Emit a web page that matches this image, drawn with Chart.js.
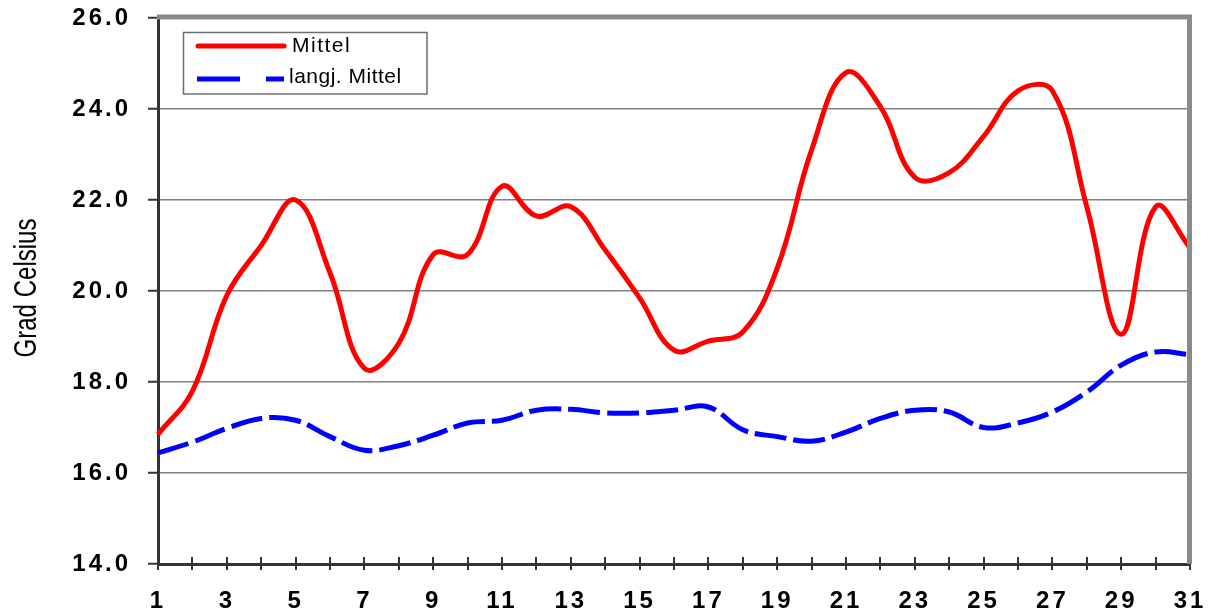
<!DOCTYPE html>
<html>
<head>
<meta charset="utf-8">
<script src="https://cdn.jsdelivr.net/npm/chart.js@4.4.0/dist/chart.umd.min.js"></script>
<style>
  html, body { margin: 0; padding: 0; background: #fff; }
  #wrap { width: 1211px; height: 614px; }
</style>
</head>
<body>
<div id="wrap"><canvas id="grafico"></canvas></div>
<script>
// Tage des Monats
const tage = ["1","2","3","4","5","6","7","8","9","10","11","12","13","14","15","16",
  "17","18","19","20","21","22","23","24","25","26","27","28","29","30","31"];

// Tagesmittel (Grad Celsius)
const mittel = [16.85, 17.8, 19.9, 21.0, 22.0, 20.4, 18.3, 18.85, 20.8, 20.8,
  22.3, 21.65, 21.85, 20.9, 19.85, 18.7, 18.9, 19.1, 20.5, 23.1,
  24.8, 24.05, 22.5, 22.6, 23.4, 24.4, 24.4, 21.85, 19.05, 21.85, 20.95];

// langjähriges Mittel
const langjMittel = [16.44, 16.68, 16.98, 17.2, 17.16, 16.8, 16.5, 16.6, 16.83, 17.1,
  17.16, 17.38, 17.4, 17.32, 17.32, 17.38, 17.45, 16.95, 16.8, 16.7,
  16.9, 17.2, 17.38, 17.34, 17.0, 17.1, 17.34, 17.78, 18.37, 18.66, 18.6];

const yMin = 14, yMax = 26, yStep = 2;
const yTitel = "Grad Celsius";

// Abstand zwischen Buchstaben wie im Original
const abstandPlugin = {
  id: "abstand",
  beforeDraw(chart) {
    chart.ctx.letterSpacing = "3px";
  }
};

// Rahmen, Achsenstriche, Titel und Legende
const extrasPlugin = {
  id: "extras",
  afterDraw(chart) {
    const ctx = chart.ctx;
    const area = chart.chartArea;
    const xs = chart.scales.x;
    ctx.save();
    ctx.letterSpacing = "0px";

    // Striche an der x-Achse (kreuzend)
    ctx.strokeStyle = "#333";
    ctx.lineWidth = 2;
    for (let i = 0; i < tage.length; i++) {
      const x = Math.round(xs.getPixelForValue(i));
      ctx.beginPath();
      ctx.moveTo(x, area.bottom - 7);
      ctx.lineTo(x, area.bottom + 6);
      ctx.stroke();
    }

    // grauer Rahmen oben und rechts
    ctx.strokeStyle = "#8a8a8a";
    ctx.lineWidth = 5;
    ctx.lineCap = "butt";
    ctx.beginPath();
    ctx.moveTo(area.left - 1, 17);
    ctx.lineTo(area.right - 0.5, 17);
    ctx.lineTo(area.right - 0.5, area.bottom);
    ctx.stroke();

    // y-Achsentitel (schmal gestaucht)
    ctx.fillStyle = "#000";
    ctx.font = '31px "Liberation Sans", Arial, sans-serif';
    ctx.textAlign = "center";
    ctx.textBaseline = "middle";
    const breite = ctx.measureText(yTitel).width;
    ctx.translate(27, 288);
    ctx.rotate(-Math.PI / 2);
    ctx.scale(139 / breite, 1);
    ctx.fillText(yTitel, 0, 0);
    ctx.setTransform(1, 0, 0, 1, 0, 0);

    // Legende
    ctx.fillStyle = "#fff";
    ctx.fillRect(183, 32, 244, 62);
    ctx.strokeStyle = "#6e6e6e";
    ctx.lineWidth = 1.5;
    ctx.strokeRect(183.5, 32.5, 243.5, 61.5);

    const ds = chart.data.datasets;
    ctx.lineWidth = 5;
    ctx.strokeStyle = ds[0].borderColor;
    ctx.lineCap = "round";
    ctx.beginPath();
    ctx.moveTo(198, 46);
    ctx.lineTo(284, 46);
    ctx.stroke();

    ctx.strokeStyle = ds[1].borderColor;
    ctx.lineCap = "butt";
    ctx.setLineDash([43, 26]);
    ctx.beginPath();
    ctx.moveTo(197, 79);
    ctx.lineTo(284, 79);
    ctx.stroke();
    ctx.setLineDash([]);

    ctx.fillStyle = "#000";
    ctx.font = '21px "Liberation Sans", Arial, sans-serif';
    ctx.letterSpacing = "1.5px";
    ctx.textAlign = "left";
    ctx.textBaseline = "alphabetic";
    ctx.fillText(ds[0].label, 292, 52);
    ctx.letterSpacing = "0.5px";
    ctx.fillText(ds[1].label, 289, 83);
    ctx.restore();
  }
};

const tickFont = { family: '"Liberation Sans", Arial, sans-serif', size: 24, weight: "bold" };

const ctx = document.getElementById("grafico").getContext("2d");
new Chart(ctx, {
  type: "line",
  data: {
    labels: tage,
    datasets: [
      {
        label: "Mittel",
        data: mittel,
        borderColor: "#ff0000",
        borderWidth: 5,
        pointRadius: 0,
        tension: 0.4,
        fill: false
      },
      {
        label: "langj. Mittel",
        data: langjMittel,
        borderColor: "#0000ff",
        borderWidth: 5,
        borderDash: [32, 7],
        pointRadius: 0,
        tension: 0.4,
        fill: false
      }
    ]
  },
  options: {
    responsive: true,
    maintainAspectRatio: false,
    animation: false,
    layout: { padding: { top: 18, right: 21, left: 0, bottom: 0 } },
    plugins: {
      legend: { display: false },
      tooltip: { enabled: false }
    },
    scales: {
      x: {
        offset: false,
        grid: { display: false, drawTicks: false },
        border: { display: true, color: "#333", width: 3 },
        ticks: {
          autoSkip: false,
          maxRotation: 0,
          padding: 23,
          color: "#000",
          font: tickFont,
          callback: (v, i) => (i % 2 === 0 ? tage[i] : "")
        },
        afterFit(scale) {
          scale.height = 50;
          scale.paddingLeft = 0;
          scale.paddingRight = 0;
        }
      },
      y: {
        min: yMin,
        max: yMax,
        grid: {
          color: "#808080",
          lineWidth: 1.5,
          drawTicks: true,
          tickLength: 10,
          tickColor: "#333",
          tickWidth: 2
        },
        border: { display: true, color: "#333", width: 3 },
        ticks: {
          stepSize: yStep,
          padding: 17,
          color: "#000",
          font: tickFont,
          callback: v => v.toFixed(1)
        },
        afterFit(scale) {
          scale.width = 158;
          scale.paddingTop = 0;
          scale.paddingBottom = 0;
        }
      }
    }
  },
  plugins: [abstandPlugin, extrasPlugin]
});
</script>
</body>
</html>
